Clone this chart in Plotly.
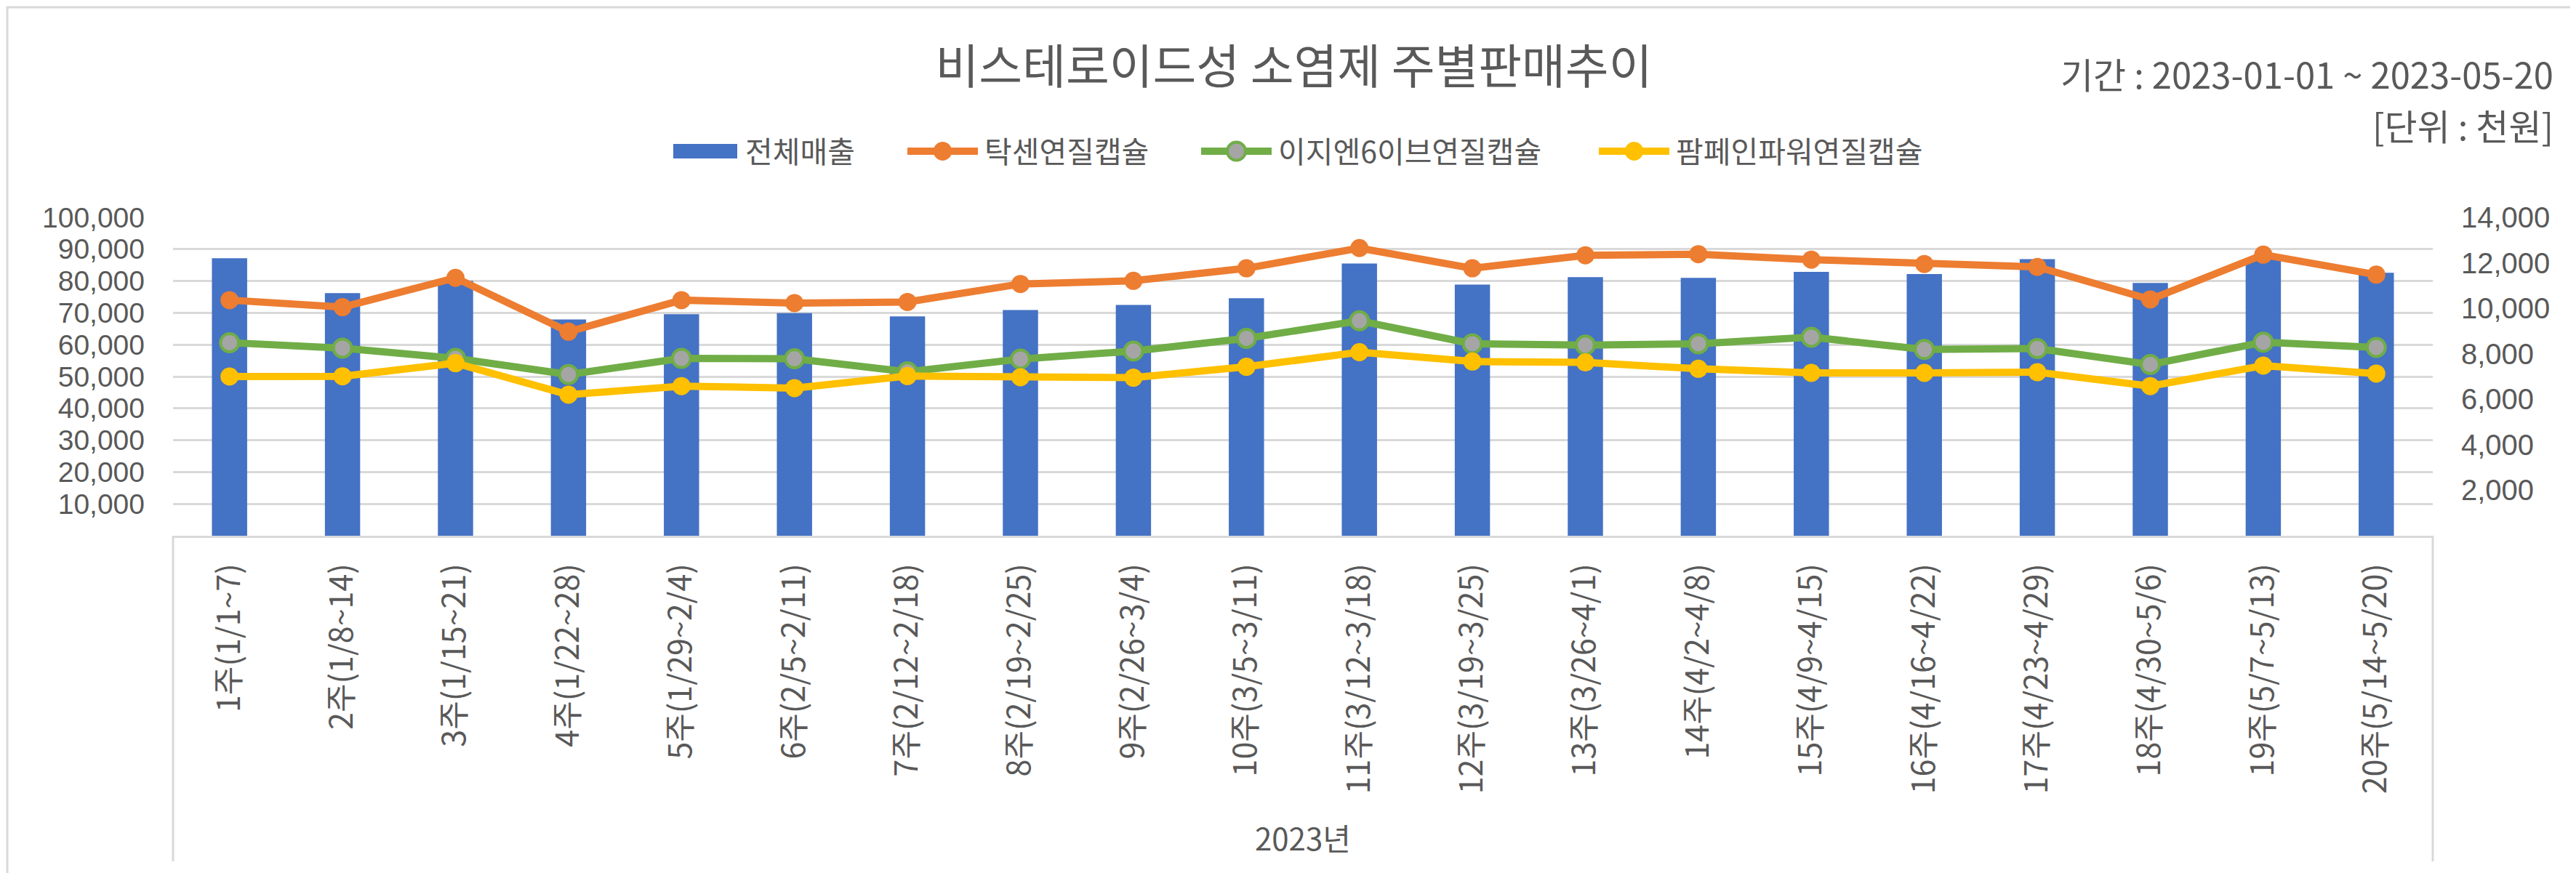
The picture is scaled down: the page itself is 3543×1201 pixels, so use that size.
import plotly.graph_objects as go

# ---------------- data ----------------
weeks = ["1주(1/1~7)", "2주(1/8~14)", "3주(1/15~21)", "4주(1/22~28)", "5주(1/29~2/4)",
         "6주(2/5~2/11)", "7주(2/12~2/18)", "8주(2/19~2/25)", "9주(2/26~3/4)", "10주(3/5~3/11)",
         "11주(3/12~3/18)", "12주(3/19~3/25)", "13주(3/26~4/1)", "14주(4/2~4/8)", "15주(4/9~4/15)",
         "16주(4/16~4/22)", "17주(4/23~4/29)", "18주(4/30~5/6)", "19주(5/7~5/13)", "20주(5/14~5/20)"]
total_sales = [87150, 76200, 80000, 67900, 69600, 69900, 68900, 70900, 72500, 74600,
               85500, 78900, 81200, 81000, 82900, 82200, 86900, 79400, 87000, 82600]
taxen = [10360, 10050, 11340, 8970, 10360, 10230, 10280, 11070, 11210, 11760,
         12650, 11760, 12330, 12380, 12140, 11950, 11820, 10390, 12360, 11480]
easyn6 = [8490, 8250, 7800, 7090, 7800, 7780, 7210, 7770, 8120, 8680,
          9450, 8440, 8380, 8440, 8730, 8190, 8230, 7530, 8510, 8280]
pampain = [7000, 7010, 7590, 6200, 6580, 6490, 7020, 6970, 6950, 7430,
           8070, 7660, 7620, 7340, 7160, 7160, 7190, 6580, 7480, 7130]
series_names = ["전체매출", "탁센연질캡슐", "이지엔6이브연질캡슐", "팜페인파워연질캡슐"]
left_ticks = [10000, 20000, 30000, 40000, 50000, 60000, 70000, 80000, 90000, 100000]
right_ticks = [2000, 4000, 6000, 8000, 10000, 12000, 14000]
title_text = "비스테로이드성 소염제 주별판매추이"
period_text = "기간 : 2023-01-01 ~ 2023-05-20"
unit_text = "[단위 : 천원]"
group_label = "2023년"

# ---------------- styles ----------------
FONT = "Noto Sans CJK KR"
NUMFONT = "Liberation Sans"
TXT = "#595959"
GRID = "#D9D9D9"
C_BAR = "#4472C4"
C_OR = "#ED7D31"
C_GR = "#70AD47"
C_GRM = "#A5A5A5"
C_YE = "#FFC000"

W, H = 3543, 1201
L, R, T, B = 230, 3338, 291, 729  # plot area in pixels


def px(x):
    return (x - L) / (R - L)


def py(y):
    return (B - y) / (B - T)


fig = go.Figure()
fig.add_trace(go.Bar(x=weeks, y=total_sales, name=series_names[0], marker_color=C_BAR,
                     marker_line_width=0, showlegend=False))
line_specs = [(taxen, series_names[1], C_OR, C_OR, 0),
              (easyn6, series_names[2], C_GR, C_GRM, 4),
              (pampain, series_names[3], C_YE, C_YE, 0)]
for vals, nm, lc, mc, mlw in line_specs:
    fig.add_trace(go.Scatter(x=weeks, y=vals, name=nm, yaxis="y2", mode="lines+markers",
                             line=dict(color=lc, width=10),
                             marker=dict(size=25, color=mc, line=dict(color=lc, width=mlw)),
                             showlegend=False))

shapes = []
annotations = []
# outer border
shapes.append(dict(type="rect", xref="paper", yref="paper", x0=px(2), x1=px(W - 4),
                   y0=py(H - 2), y1=py(2), line=dict(color=GRID, width=3), layer="below"))
# category group separators
for xx in (0, 1):
    shapes.append(dict(type="line", xref="paper", yref="paper", x0=xx, x1=xx,
                       y0=0, y1=py(1177), line=dict(color=GRID, width=3)))

# manual legend
LEG_Y = 200
leg_starts = [918, 1240, 1644, 2191]
shapes.append(dict(type="rect", xref="paper", yref="paper", x0=px(leg_starts[0]), x1=px(leg_starts[0] + 88),
                   y0=py(LEG_Y + 10), y1=py(LEG_Y - 10), fillcolor=C_BAR, line_width=0))
annotations.append(dict(text=series_names[0], xref="paper", yref="paper", x=px(leg_starts[0] + 97),
                        y=py(LEG_Y - 2), xanchor="left", yanchor="middle", showarrow=False,
                        font=dict(family=FONT, size=41, color=TXT)))
for (vals, nm, lc, mc, mlw), xs in zip(line_specs, leg_starts[1:]):
    shapes.append(dict(type="line", xref="paper", yref="paper", x0=px(xs), x1=px(xs + 97),
                       y0=py(LEG_Y), y1=py(LEG_Y), line=dict(color=lc, width=10)))
    cx = px(xs + 48.5)
    shapes.append(dict(type="circle", xref="paper", yref="paper", xsizemode="pixel", ysizemode="pixel",
                       xanchor=cx, yanchor=py(LEG_Y), x0=-12.5, x1=12.5, y0=-12.5, y1=12.5,
                       fillcolor=mc, line=dict(color=lc, width=max(mlw, 1))))
    annotations.append(dict(text=nm, xref="paper", yref="paper", x=px(xs + 104), y=py(LEG_Y - 2),
                            xanchor="left", yanchor="middle", showarrow=False,
                            font=dict(family=FONT, size=41, color=TXT)))

# period / unit texts
annotations.append(dict(text=period_text, xref="paper", yref="paper", x=px(3506), y=py(92),
                        xanchor="right", yanchor="middle", showarrow=False,
                        font=dict(family=FONT, size=49, color=TXT)))
annotations.append(dict(text=unit_text, xref="paper", yref="paper", x=px(3506), y=py(163),
                        xanchor="right", yanchor="middle", showarrow=False,
                        font=dict(family=FONT, size=49, color=TXT)))
# group label
annotations.append(dict(text=group_label, xref="paper", yref="paper", x=0.5, y=py(1143),
                        xanchor="center", yanchor="middle", showarrow=False,
                        font=dict(family=FONT, size=42, color=TXT)))

fig.update_layout(
    width=W, height=H,
    margin=dict(l=L, r=W - R, t=T, b=H - B, pad=0, autoexpand=False),
    paper_bgcolor="white", plot_bgcolor="white",
    font=dict(family=FONT, color=TXT),
    title=dict(text=title_text, x=0.5, xref="container", xanchor="center",
               y=1 - 84 / H, yref="container", yanchor="middle", automargin=False,
               font=dict(family=FONT, size=65, color=TXT)),
    bargap=0.688,
    showlegend=False,
    xaxis=dict(type="category", range=[-0.5, len(weeks) - 0.5], tickangle=-90,
               tickfont=dict(family=FONT, size=43, color=TXT), automargin=False,
               showline=True, linecolor=GRID, linewidth=3, showgrid=False, ticks="",
               ticklabelstandoff=18, fixedrange=True),
    yaxis=dict(range=[0, 100000], tickvals=left_ticks, tickformat=",d", automargin=False,
               tickfont=dict(family=NUMFONT, size=39, color=TXT),
               showgrid=True, gridcolor=GRID, gridwidth=3, zeroline=False, showline=False,
               ticks="", ticklabelstandoff=38),
    yaxis2=dict(range=[0, 14000], tickvals=right_ticks, tickformat=",d", overlaying="y", side="right",
                tickfont=dict(family=NUMFONT, size=40, color=TXT), showgrid=False, zeroline=False,
                automargin=False, showline=False, ticks="", ticklabelstandoff=38),
    shapes=shapes, annotations=annotations,
)

fig.write_html("out.html")
